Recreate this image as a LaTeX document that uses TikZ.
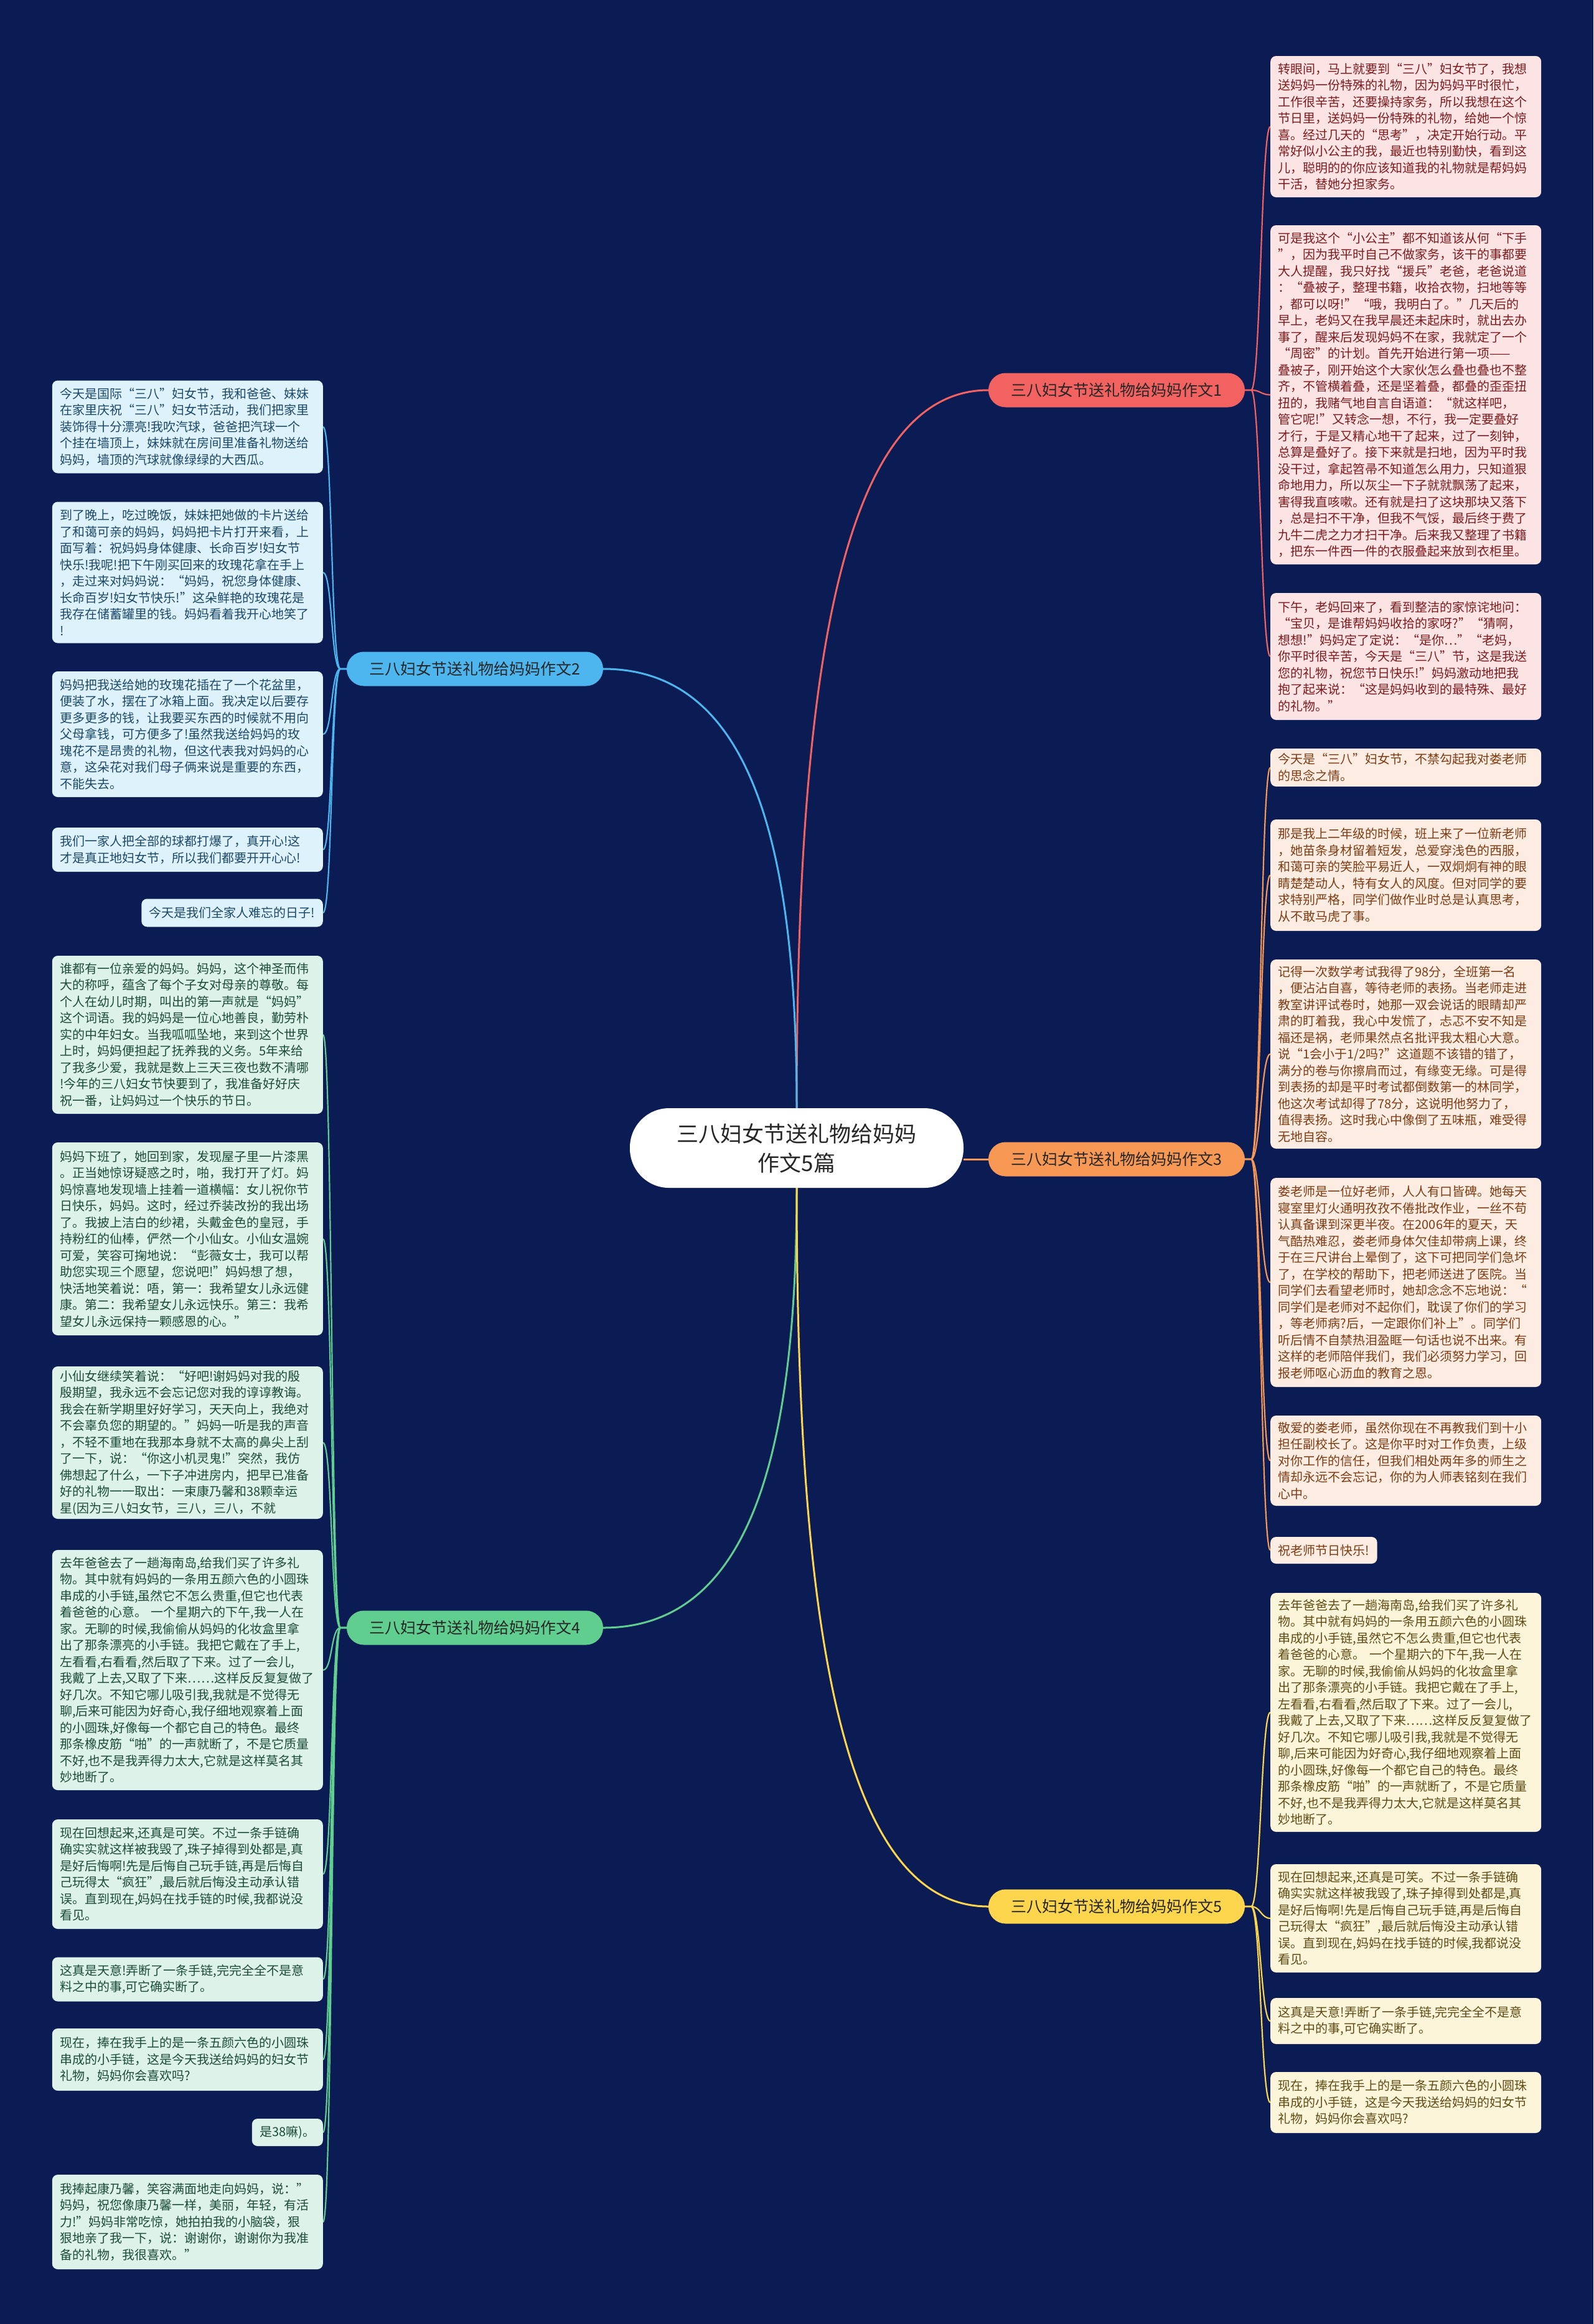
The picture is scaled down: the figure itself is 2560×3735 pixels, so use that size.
\documentclass[tikz,border=0pt]{standalone}
\usepackage{fontspec}
\setmainfont{Noto Sans CJK SC}
\definecolor{bgc}{RGB}{11,28,85}
\definecolor{cA}{RGB}{241,98,96}
\definecolor{cB}{RGB}{77,182,238}
\definecolor{cC}{RGB}{247,152,84}
\definecolor{cD}{RGB}{96,206,143}
\definecolor{cE}{RGB}{253,214,77}
\definecolor{fA}{RGB}{253,228,228}
\definecolor{fB}{RGB}{222,242,252}
\definecolor{fC}{RGB}{253,236,225}
\definecolor{fD}{RGB}{221,243,233}
\definecolor{fE}{RGB}{253,245,218}
\definecolor{tA}{RGB}{125,27,30}
\definecolor{tB}{RGB}{28,72,105}
\definecolor{tC}{RGB}{125,60,20}
\definecolor{tD}{RGB}{28,75,58}
\definecolor{tE}{RGB}{95,75,20}
\pgfdeclarelayer{bg}
\pgfdeclarelayer{edges}
\pgfsetlayers{bg,edges,main}
\tikzset{
  centre/.style={fill=white, rounded corners=63pt, minimum width=536pt, minimum height=128pt,
    align=center, text=black!85, font=\fontsize{35}{47}\selectfont, inner sep=0pt},
  branch/.style={rounded corners=27.5pt, minimum width=412pt, minimum height=55pt,
    text=black!85, font=\fontsize{25}{30}\selectfont, inner sep=0pt},
  leaf/.style={rounded corners=9pt, inner xsep=12.5pt, inner ysep=6pt, align=left,
    font=\fontsize{20}{26.5}\selectfont},
  leafR/.style={leaf, anchor=west},
  leafL/.style={leaf, anchor=east},
  wide/.style={text width=410pt},
  lA/.style={fill=fA, text=tA}, lB/.style={fill=fB, text=tB}, lC/.style={fill=fC, text=tC},
  lD/.style={fill=fD, text=tD}, lE/.style={fill=fE, text=tE},
  mainedge/.style={line width=3pt},
  leafedge/.style={line width=2.2pt}
}
\begin{document}
\begin{tikzpicture}[x=1pt,y=-1pt]
\begin{pgfonlayer}{bg}
\fill[bgc] (0,0) rectangle (2560,3735);
\end{pgfonlayer}
\useasboundingbox (0,0) rectangle (2560,3735);

% centre and branches
\node[centre] (c) at (1280,1845) {三八妇女节送礼物给妈妈\\作文5篇};
\node[branch, fill=cA] (b1) at (1794,627) {三八妇女节送礼物给妈妈作文1};
\node[branch, fill=cB] (b2) at (763,1075) {三八妇女节送礼物给妈妈作文2};
\node[branch, fill=cC] (b3) at (1794,1863) {三八妇女节送礼物给妈妈作文3};
\node[branch, fill=cD] (b4) at (763,2616) {三八妇女节送礼物给妈妈作文4};
\node[branch, fill=cE] (b5) at (1794,3064) {三八妇女节送礼物给妈妈作文5};

% branch 1 leaves
\node[leafR, wide, lA, minimum height=227pt] (r1a) at (2041,203.5) {转眼间，马上就要到“三八”妇女节了，我想\\送妈妈一份特殊的礼物，因为妈妈平时很忙，\\工作很辛苦，还要操持家务，所以我想在这个\\节日里，送妈妈一份特殊的礼物，给她一个惊\\喜。经过几天的“思考”，决定开始行动。平\\常好似小公主的我，最近也特别勤快，看到这\\儿，聪明的的你应该知道我的礼物就是帮妈妈\\干活，替她分担家务。};
\node[leafR, wide, lA, minimum height=545pt] (r1b) at (2041,634.5) {可是我这个“小公主”都不知道该从何“下手\\”，因为我平时自己不做家务，该干的事都要\\大人提醒，我只好找“援兵”老爸，老爸说道\\：“叠被子，整理书籍，收拾衣物，扫地等等\\，都可以呀!”“哦，我明白了。”几天后的\\早上，老妈又在我早晨还未起床时，就出去办\\事了，醒来后发现妈妈不在家，我就定了一个\\“周密”的计划。首先开始进行第一项——\\叠被子，刚开始这个大家伙怎么叠也叠也不整\\齐，不管横着叠，还是坚着叠，都叠的歪歪扭\\扭的，我赌气地自言自语道：“就这样吧，\\管它呢!”又转念一想，不行，我一定要叠好\\才行，于是又精心地干了起来，过了一刻钟，\\总算是叠好了。接下来就是扫地，因为平时我\\没干过，拿起笤帚不知道怎么用力，只知道狠\\命地用力，所以灰尘一下子就就飘荡了起来，\\害得我直咳嗽。还有就是扫了这块那块又落下\\，总是扫不干净，但我不气馁，最后终于费了\\九牛二虎之力才扫干净。后来我又整理了书籍\\，把东一件西一件的衣服叠起来放到衣柜里。};
\node[leafR, wide, lA, minimum height=204pt] (r1c) at (2041,1055) {下午，老妈回来了，看到整洁的家惊诧地问：\\“宝贝，是谁帮妈妈收拾的家呀?”“猜啊，\\想想!”妈妈定了定说：“是你…”“老妈，\\你平时很辛苦，今天是“三八”节，这是我送\\您的礼物，祝您节日快乐!”妈妈激动地把我\\抱了起来说：“这是妈妈收到的最特殊、最好\\的礼物。”};

% branch 3 leaves
\node[leafR, wide, lC, minimum height=61pt] (r3a) at (2041,1233.5) {今天是“三八”妇女节，不禁勾起我对娄老师\\的思念之情。};
\node[leafR, wide, lC, minimum height=179pt] (r3b) at (2041,1406.5) {那是我上二年级的时候，班上来了一位新老师\\，她苗条身材留着短发，总爱穿浅色的西服，\\和蔼可亲的笑脸平易近人，一双炯炯有神的眼\\睛楚楚动人，特有女人的风度。但对同学的要\\求特别严格，同学们做作业时总是认真思考，\\从不敢马虎了事。};
\node[leafR, wide, lC, minimum height=304pt] (r3c) at (2041,1694) {记得一次数学考试我得了98分，全班第一名\\，便沾沾自喜，等待老师的表扬。当老师走进\\教室讲评试卷时，她那一双会说话的眼睛却严\\肃的盯着我，我心中发慌了，忐忑不安不知是\\福还是祸，老师果然点名批评我太粗心大意。\\说“1会小于1/2吗?”这道题不该错的错了，\\满分的卷与你擦肩而过，有缘变无缘。可是得\\到表扬的却是平时考试都倒数第一的林同学，\\他这次考试却得了78分，这说明他努力了，\\值得表扬。这时我心中像倒了五味瓶，难受得\\无地自容。};
\node[leafR, wide, lC, minimum height=336pt] (r3d) at (2041,2061) {娄老师是一位好老师，人人有口皆碑。她每天\\寝室里灯火通明孜孜不倦批改作业，一丝不苟\\认真备课到深更半夜。在2006年的夏天，天\\气酷热难忍，娄老师身体欠佳却带病上课，终\\于在三尺讲台上晕倒了，这下可把同学们急坏\\了，在学校的帮助下，把老师送进了医院。当\\同学们去看望老师时，她却念念不忘地说：“\\同学们是老师对不起你们，耽误了你们的学习\\，等老师病?后，一定跟你们补上”。同学们\\听后情不自禁热泪盈眶一句话也说不出来。有\\这样的老师陪伴我们，我们必须努力学习，回\\报老师呕心沥血的教育之恩。};
\node[leafR, wide, lC, minimum height=145pt] (r3e) at (2041,2347.5) {敬爱的娄老师，虽然你现在不再教我们到十小\\担任副校长了。这是你平时对工作负责，上级\\对你工作的信任，但我们相处两年多的师生之\\情却永远不会忘记，你的为人师表铭刻在我们\\心中。};
\node[leafR, lC, minimum height=43pt] (r3f) at (2041,2491.5) {祝老师节日快乐!};

% branch 5 leaves
\node[leafR, wide, lE, minimum height=384pt] (r5a) at (2041,2752) {去年爸爸去了一趟海南岛,给我们买了许多礼\\物。其中就有妈妈的一条用五颜六色的小圆珠\\串成的小手链,虽然它不怎么贵重,但它也代表\\着爸爸的心意。 一个星期六的下午,我一人在\\家。无聊的时候,我偷偷从妈妈的化妆盒里拿\\出了那条漂亮的小手链。我把它戴在了手上,\\左看看,右看看,然后取了下来。过了一会儿,\\我戴了上去,又取了下来……这样反反复复做了\\好几次。不知它哪儿吸引我,我就是不觉得无\\聊,后来可能因为好奇心,我仔细地观察着上面\\的小圆珠,好像每一个都它自己的特色。最终\\那条橡皮筋“啪”的一声就断了，不是它质量\\不好,也不是我弄得力太大,它就是这样莫名其\\妙地断了。};
\node[leafR, wide, lE, minimum height=174pt] (r5b) at (2041,3083) {现在回想起来,还真是可笑。不过一条手链确\\确实实就这样被我毁了,珠子掉得到处都是,真\\是好后悔啊!先是后悔自己玩手链,再是后悔自\\己玩得太“疯狂”,最后就后悔没主动承认错\\误。直到现在,妈妈在找手链的时候,我都说没\\看见。};
\node[leafR, wide, lE, minimum height=74pt] (r5c) at (2041,3248) {这真是天意!弄断了一条手链,完完全全不是意\\料之中的事,可它确实断了。};
\node[leafR, wide, lE, minimum height=98pt] (r5d) at (2041,3379) {现在，捧在我手上的是一条五颜六色的小圆珠\\串成的小手链，这是今天我送给妈妈的妇女节\\礼物，妈妈你会喜欢吗?};

% branch 2 leaves
\node[leafL, wide, lB, minimum height=149pt] (l2a) at (519,686) {今天是国际“三八”妇女节，我和爸爸、妹妹\\在家里庆祝“三八”妇女节活动，我们把家里\\装饰得十分漂亮!我吹汽球，爸爸把汽球一个\\个挂在墙顶上，妹妹就在房间里准备礼物送给\\妈妈，墙顶的汽球就像绿绿的大西瓜。};
\node[leafL, wide, lB, minimum height=227pt] (l2b) at (519,920) {到了晚上，吃过晚饭，妹妹把她做的卡片送给\\了和蔼可亲的妈妈，妈妈把卡片打开来看，上\\面写着：祝妈妈身体健康、长命百岁!妇女节\\快乐!我呢!把下午刚买回来的玫瑰花拿在手上\\，走过来对妈妈说：“妈妈，祝您身体健康、\\长命百岁!妇女节快乐!”这朵鲜艳的玫瑰花是\\我存在储蓄罐里的钱。妈妈看着我开心地笑了\\!};
\node[leafL, wide, lB, minimum height=202pt] (l2c) at (519,1180) {妈妈把我送给她的玫瑰花插在了一个花盆里，\\便装了水，摆在了冰箱上面。我决定以后要存\\更多更多的钱，让我要买东西的时候就不用向\\父母拿钱，可方便多了!虽然我送给妈妈的玫\\瑰花不是昂贵的礼物，但这代表我对妈妈的心\\意，这朵花对我们母子俩来说是重要的东西，\\不能失去。};
\node[leafL, wide, lB, minimum height=71pt] (l2d) at (519,1365.5) {我们一家人把全部的球都打爆了，真开心!这\\才是真正地妇女节，所以我们都要开开心心!};
\node[leafL, lB, minimum height=45pt] (l2e) at (519,1467) {今天是我们全家人难忘的日子!};

% branch 4 leaves
\node[leafL, wide, lD, minimum height=254pt] (l4a) at (519,1663) {谁都有一位亲爱的妈妈。妈妈，这个神圣而伟\\大的称呼，蕴含了每个子女对母亲的尊敬。每\\个人在幼儿时期，叫出的第一声就是“妈妈”\\这个词语。我的妈妈是一位心地善良，勤劳朴\\实的中年妇女。当我呱呱坠地，来到这个世界\\上时，妈妈便担起了抚养我的义务。5年来给\\了我多少爱，我就是数上三天三夜也数不清哪\\!今年的三八妇女节快要到了，我准备好好庆\\祝一番，让妈妈过一个快乐的节日。};
\node[leafL, wide, lD, minimum height=310pt] (l4b) at (519,1991) {妈妈下班了，她回到家，发现屋子里一片漆黑\\。正当她惊讶疑惑之时，啪，我打开了灯。妈\\妈惊喜地发现墙上挂着一道横幅：女儿祝你节\\日快乐，妈妈。这时，经过乔装改扮的我出场\\了。我披上洁白的纱裙，头戴金色的皇冠，手\\持粉红的仙棒，俨然一个小仙女。小仙女温婉\\可爱，笑容可掬地说：“彭薇女士，我可以帮\\助您实现三个愿望，您说吧!”妈妈想了想，\\快活地笑着说：唔，第一：我希望女儿永远健\\康。第二：我希望女儿永远快乐。第三：我希\\望女儿永远保持一颗感恩的心。”};
\node[leafL, wide, lD, minimum height=245pt] (l4c) at (519,2318.5) {小仙女继续笑着说：“好吧!谢妈妈对我的殷\\殷期望，我永远不会忘记您对我的谆谆教诲。\\我会在新学期里好好学习，天天向上，我绝对\\不会辜负您的期望的。”妈妈一听是我的声音\\，不轻不重地在我那本身就不太高的鼻尖上刮\\了一下，说：“你这小机灵鬼!”突然，我仿\\佛想起了什么，一下子冲进房内，把早已准备\\好的礼物一一取出：一束康乃馨和38颗幸运\\星(因为三八妇女节，三八，三八，不就};
\node[leafL, wide, lD, minimum height=386pt] (l4d) at (519,2684) {去年爸爸去了一趟海南岛,给我们买了许多礼\\物。其中就有妈妈的一条用五颜六色的小圆珠\\串成的小手链,虽然它不怎么贵重,但它也代表\\着爸爸的心意。 一个星期六的下午,我一人在\\家。无聊的时候,我偷偷从妈妈的化妆盒里拿\\出了那条漂亮的小手链。我把它戴在了手上,\\左看看,右看看,然后取了下来。过了一会儿,\\我戴了上去,又取了下来……这样反反复复做了\\好几次。不知它哪儿吸引我,我就是不觉得无\\聊,后来可能因为好奇心,我仔细地观察着上面\\的小圆珠,好像每一个都它自己的特色。最终\\那条橡皮筋“啪”的一声就断了，不是它质量\\不好,也不是我弄得力太大,它就是这样莫名其\\妙地断了。};
\node[leafL, wide, lD, minimum height=176pt] (l4e) at (519,3012) {现在回想起来,还真是可笑。不过一条手链确\\确实实就这样被我毁了,珠子掉得到处都是,真\\是好后悔啊!先是后悔自己玩手链,再是后悔自\\己玩得太“疯狂”,最后就后悔没主动承认错\\误。直到现在,妈妈在找手链的时候,我都说没\\看见。};
\node[leafL, wide, lD, minimum height=71pt] (l4f) at (519,3181) {这真是天意!弄断了一条手链,完完全全不是意\\料之中的事,可它确实断了。};
\node[leafL, wide, lD, minimum height=100pt] (l4g) at (519,3310) {现在，捧在我手上的是一条五颜六色的小圆珠\\串成的小手链，这是今天我送给妈妈的妇女节\\礼物，妈妈你会喜欢吗?};
\node[leafL, lD, minimum height=44pt] (l4h) at (519,3427) {是38嘛)。};
\node[leafL, wide, lD, minimum height=152pt] (l4i) at (519,3571) {我捧起康乃馨，笑容满面地走向妈妈，说：”\\妈妈，祝您像康乃馨一样，美丽，年轻，有活\\力!”妈妈非常吃惊，她拍拍我的小脑袋，狠\\狠地亲了我一下，说：谢谢你，谢谢你为我准\\备的礼物，我很喜欢。”};

% connectors
\begin{pgfonlayer}{edges}
\draw[mainedge, cA] (c.north) .. controls +(0,-692) and +(-238,0) .. (b1.west);
\draw[mainedge, cB] (c.north) .. controls +(0,-424) and +(237,0) .. (b2.east);
\draw[mainedge, cC] (c.east |- b3.west) -- (b3.west);
\draw[mainedge, cD] (c.south) .. controls +(0,424) and +(237,0) .. (b4.east);
\draw[mainedge, cE] (c.south) .. controls +(0,693) and +(-238,0) .. (b5.west);
\foreach \n in {r1a,r1b,r1c}
  \draw[leafedge, cA] (b1.east) -- ++(10,0) .. controls +(15,0) and +(-15,0) .. (\n.west);
\foreach \n in {r3a,r3b,r3c,r3d,r3e,r3f}
  \draw[leafedge, cC] (b3.east) -- ++(10,0) .. controls +(15,0) and +(-15,0) .. (\n.west);
\foreach \n in {r5a,r5b,r5c,r5d}
  \draw[leafedge, cE] (b5.east) -- ++(10,0) .. controls +(15,0) and +(-15,0) .. (\n.west);
\foreach \n in {l2a,l2b,l2c,l2d,l2e}
  \draw[leafedge, cB] (b2.west) -- ++(-10,0) .. controls +(-15,0) and +(15,0) .. (\n.east);
\foreach \n in {l4a,l4b,l4c,l4d,l4e,l4f,l4g,l4h,l4i}
  \draw[leafedge, cD] (b4.west) -- ++(-10,0) .. controls +(-15,0) and +(15,0) .. (\n.east);
\end{pgfonlayer}
\end{tikzpicture}
\end{document}
